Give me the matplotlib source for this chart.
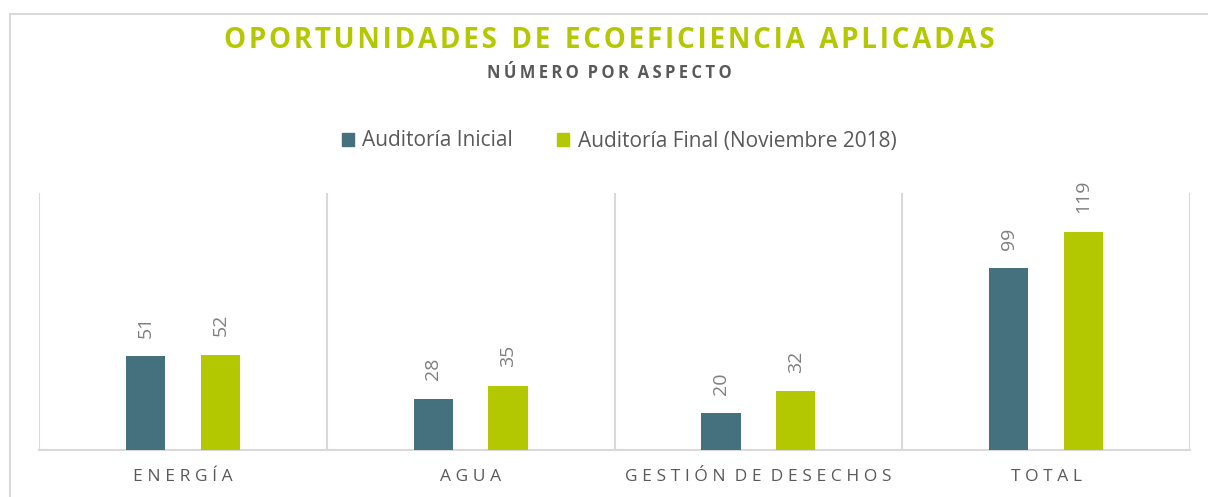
import numpy as np
import matplotlib.pyplot as plt
from matplotlib.lines import Line2D
from matplotlib.patches import Patch

categorias = ['ENERGÍA', 'AGUA', 'GESTIÓN DE DESECHOS', 'TOTAL']
inicial = [51, 28, 20, 99]
final = [52, 35, 32, 119]
series = ['Auditoría Inicial', 'Auditoría Final (Noviembre 2018)']

teal = '#44717D'
verde = '#B3C800'
gris = '#595959'
linea = '#D9D9D9'

plt.rcParams['font.family'] = ['Open Sans', 'DejaVu Sans']

def espaciar(txt, sep='\u2009', gap='  '):
	# letter spacing by hand, words keep a wider gap
	return gap.join(sep.join(p) for p in txt.split(' '))

fig = plt.figure(figsize=(12.08, 4.97), dpi=100)
ax = fig.add_axes([39/1208, 47/497, (1190-39)/1208, 257/497])

x = np.arange(len(categorias))
w = 0.136
off = 0.13
b1 = ax.bar(x - off, inicial, w, color=teal, zorder=3)
b2 = ax.bar(x + off, final, w, color=verde, zorder=3)

for bars, vals in [(b1, inicial), (b2, final)]:
	for b, v in zip(bars, vals):
		ax.annotate(str(v), (b.get_x() + b.get_width()/2, v), xytext=(0, 13.5),
			textcoords='offset points', rotation=90, ha='center', va='bottom',
			fontsize=14, color='#7F7F7F')

ax.set_xlim(-0.5, len(categorias) - 0.5)
ax.set_ylim(0, 140)
ax.set_yticks([])
ax.set_xticks(x)
ax.set_xticklabels([espaciar(c, '\u2009\u200a', '  ') for c in categorias], fontsize=12.5, color=gris)
ax.tick_params(axis='x', length=0, pad=14)
for s in ['top', 'right', 'left']:
	ax.spines[s].set_visible(False)
ax.spines['bottom'].set_color(linea)
ax.spines['bottom'].set_linewidth(1.5)
for xv in np.arange(-0.5, len(categorias), 1.0):
	ax.axvline(xv, color=linea, lw=1.5, zorder=1)

# chart frame
fig.add_artist(Line2D([10/1208, 10/1208], [0, 1 - 14/497], transform=fig.transFigure, color=linea, lw=1.5))
fig.add_artist(Line2D([10/1208, 1], [1 - 14/497, 1 - 14/497], transform=fig.transFigure, color=linea, lw=1.5))

fig.text(609/1208, 1 - 40/497, espaciar('OPORTUNIDADES DE ECOEFICIENCIA APLICADAS', '\u200a', '  '),
	ha='center', va='center', fontsize=20, fontweight='bold', color=verde)
fig.text(609/1208, 1 - 73/497, espaciar('NÚMERO POR ASPECTO', '\u2009', '  '),
	ha='center', va='center', fontsize=12, fontweight='bold', color=gris)

handles = [Patch(color=teal), Patch(color=verde)]
fig.legend(handles, series, loc='center', bbox_to_anchor=(619/1208, 1 - 141/497), ncol=2,
	frameon=False, fontsize=15, labelcolor=gris, handlelength=0.6, handleheight=0.6,
	handletextpad=0.4, columnspacing=2.1)

fig.savefig('out.png', dpi=100)
